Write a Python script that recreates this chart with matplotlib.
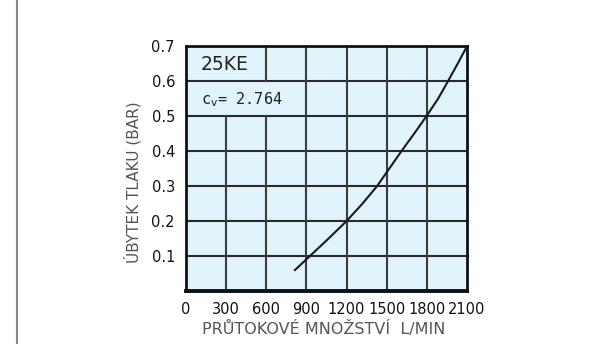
import matplotlib
matplotlib.use("Agg")
import matplotlib.pyplot as plt
from matplotlib.lines import Line2D

# flow (L/min) vs pressure drop (bar)
flow = [814, 926, 1065, 1200, 1319, 1428, 1610, 1705, 1797, 1884, 1958, 2030, 2100]
drop = [0.06, 0.10, 0.15, 0.20, 0.25, 0.30, 0.40, 0.45, 0.50, 0.55, 0.60, 0.65, 0.70]

x_ticks = [0, 300, 600, 900, 1200, 1500, 1800, 2100]
y_ticks = [0.1, 0.2, 0.3, 0.4, 0.5, 0.6, 0.7]
y_tick_labels = ["0.1", "0.2", "0.3", "0.4", "0.5", "0.6", "0.7"]

model = "25KE"
cv_value = "2.764"

grid_color = "#2a2a2a"
fill_color = "#e1f3fb"
label_color = "#555555"

fig = plt.figure(figsize=(6.11, 3.44), dpi=100)
ax = fig.add_axes([0.3044, 0.154, 0.4599, 0.7115])
ax.set_facecolor(fill_color)
ax.set_xlim(0, 2100)
ax.set_ylim(0, 0.7)

# horizontal grid lines
for y in y_ticks[:-1]:
    ax.axhline(y, color=grid_color, linewidth=1.5, zorder=1)

# vertical grid lines, leaving room for the label boxes in the top-left
vcol = "#3c3c3c"
for x in x_ticks[1:-1]:
    if x == 300:
        ax.plot([x, x], [0, 0.5], color=vcol, linewidth=1.5, zorder=1)
    elif x == 600:
        ax.plot([x, x], [0, 0.5], color=vcol, linewidth=1.5, zorder=1)
        ax.plot([x, x], [0.6, 0.7], color=vcol, linewidth=1.5, zorder=1)
    else:
        ax.axvline(x, color=vcol, linewidth=1.5, zorder=1)

ax.plot(flow, drop, color="#1a1a1a", linewidth=1.5, zorder=3,
        solid_joinstyle="round")

ax.text(290, 0.648, model, ha="center", va="center", fontsize=13.5,
        color="#222222", zorder=4)
ax.text(112, 0.548, "c$_\\mathsf{v}$= " + cv_value, ha="left", va="center",
        fontsize=11, family="DejaVu Sans Mono", color="#222222", zorder=4)

for side in ax.spines.values():
    side.set_color("#111111")
    side.set_linewidth(2.0)
ax.spines["bottom"].set_linewidth(2.8)

ax.set_xticks(x_ticks)
ax.set_xticklabels([str(x) for x in x_ticks])
ax.set_yticks(y_ticks)
ax.set_yticklabels(y_tick_labels)
ax.tick_params(length=0, labelsize=10.5, colors="#111111")
ax.tick_params(axis="y", pad=8)
ax.tick_params(axis="x", pad=8)

fig.text(0.2177, 0.47, "ÚBYTEK TLAKU (BAR)", rotation=90, ha="center",
         va="center", fontsize=11, color=label_color)
fig.text(0.529, 0.045, "PRŮTOKOVÉ MNOŽSTVÍ  L/MIN", ha="center",
         va="center", fontsize=11.5, color=label_color)

# page border on the left
fig.add_artist(Line2D([0.028, 0.028], [0, 1], transform=fig.transFigure,
                      color="#888888", linewidth=1.5))

fig.savefig("out.png", dpi=100)
